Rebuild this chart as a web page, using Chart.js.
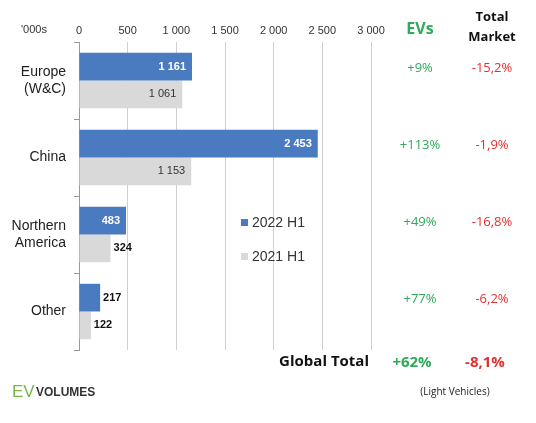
<!DOCTYPE html>
<html>
<head>
<meta charset="utf-8">
<script src="https://cdn.jsdelivr.net/npm/chart.js@4"></script>
<style>
  html, body { margin: 0; padding: 0; background: #fff; }
  #wrap { width: 536px; height: 423px; }
</style>
</head>
<body>
<div id="wrap"><canvas id="chart"></canvas></div>
<script>
const regions = [['Europe', '(W&C)'], 'China', ['Northern', 'America'], 'Other'];
const h1_2022 = [1161, 2453, 483, 217];
const h1_2021 = [1061, 1153, 324, 122];
const evGrowth = ['+9%', '+113%', '+49%', '+77%'];
const marketGrowth = ['-15,2%', '-1,9%', '-16,8%', '-6,2%'];
const globalEv = '+62%';
const globalMarket = '-8,1%';

const GREEN = '#2eaa5a', RED = '#e03030';

function fmt(v) {
  return String(v).replace(/\B(?=(\d{3})+(?!\d))/g, ' ');
}

const overlay = {
  id: 'overlay',
  afterDatasetsDraw(chart) {
    const ctx = chart.ctx;
    ctx.save();
    ctx.textBaseline = 'middle';
    // bar labels
    chart.data.datasets.forEach((ds, di) => {
      chart.getDatasetMeta(di).data.forEach((bar, i) => {
        const v = ds.data[i];
        const w = bar.x - bar.base;
        if (w > 40) {
          ctx.textAlign = 'right';
          ctx.fillStyle = di === 0 ? '#fff' : '#333';
          ctx.font = (di === 0 ? 'bold ' : '') + '11px "Liberation Sans", Arial';
          ctx.fillText(fmt(v), bar.x - 6, bar.y);
        } else {
          ctx.textAlign = 'left';
          ctx.fillStyle = '#111';
          ctx.font = 'bold 11px "Liberation Sans", Arial';
          ctx.fillText(fmt(v), bar.x + 3, bar.y);
        }
      });
    });
    // header
    ctx.textAlign = 'center';
    ctx.fillStyle = '#333';
    ctx.font = '11px "Liberation Sans", Arial';
    ctx.fillText("'000s", 34, 30);
    ctx.fillStyle = GREEN;
    ctx.font = 'bold 16px "Open Sans"';
    ctx.fillText('EVs', 420, 29);
    ctx.fillStyle = '#111';
    ctx.font = 'bold 13px "Open Sans"';
    ctx.fillText('Total', 492, 17);
    ctx.fillText('Market', 492, 37);
    // per-region growth
    const y = chart.scales.y;
    ctx.font = '13px "Open Sans"';
    regions.forEach((r, i) => {
      const cy = y.getPixelForValue(i) - 12;
      ctx.fillStyle = GREEN;
      ctx.fillText(evGrowth[i], 420, cy);
      ctx.fillStyle = RED;
      ctx.fillText(marketGrowth[i], 492, cy);
    });
    // global total
    ctx.font = 'bold 15px "Open Sans"';
    ctx.textAlign = 'right';
    ctx.fillStyle = '#111';
    ctx.fillText('Global Total', 369, 362);
    ctx.textAlign = 'center';
    ctx.fillStyle = GREEN;
    ctx.fillText(globalEv, 412, 363);
    ctx.fillStyle = RED;
    ctx.fillText(globalMarket, 485, 363);
    ctx.fillStyle = '#222';
    ctx.font = '10px "Open Sans"';
    ctx.fillText('(Light Vehicles)', 455, 392);
    // logo
    ctx.textAlign = 'left';
    ctx.fillStyle = '#7ab648';
    ctx.font = '17px "Liberation Sans", Arial';
    ctx.fillText('EV', 12, 392);
    ctx.fillStyle = '#333';
    ctx.font = 'bold 12px "Liberation Sans", Arial';
    ctx.fillText('VOLUMES', 36, 393);
    // legend
    const items = [['2022 H1', '#4a7bc0'], ['2021 H1', '#d9d9d9']];
    ctx.font = '14px "Liberation Sans", Arial';
    items.forEach((it, i) => {
      const ly = 223 + i * 34;
      ctx.fillStyle = it[1];
      ctx.fillRect(241, ly - 4, 7, 7);
      ctx.fillStyle = '#333';
      ctx.fillText(it[0], 252, ly);
    });
    ctx.restore();
  }
};

new Chart(document.getElementById('chart'), {
  type: 'bar',
  data: {
    labels: regions,
    datasets: [
      { label: '2022 H1', data: h1_2022, backgroundColor: '#4a7bc0' },
      { label: '2021 H1', data: h1_2021, backgroundColor: '#d9d9d9' }
    ]
  },
  options: {
    indexAxis: 'y',
    responsive: true,
    maintainAspectRatio: false,
    animation: false,
    categoryPercentage: 0.72,
    barPercentage: 1,
    layout: { padding: { left: 0, right: 165, top: 0, bottom: 73 } },
    plugins: { legend: { display: false }, tooltip: { enabled: false } },
    scales: {
      x: {
        position: 'top',
        min: 0, max: 3000,
        ticks: { stepSize: 500, color: '#333', padding: 4, font: { size: 11, family: '"Liberation Sans", Arial' },
                 callback: v => fmt(v) },
        grid: { color: '#cfcfcf', tickLength: 0 },
        border: { display: false },
        afterFit: s => { s.height = 42; }
      },
      y: {
        ticks: { color: '#222', font: { size: 14, family: '"Liberation Sans", Arial' }, padding: 8 },
        grid: { drawOnChartArea: false, offset: true, tickLength: 5, color: '#999' },
        border: { color: '#999' },
        afterFit: s => { s.width = 79; }
      }
    }
  },
  plugins: [overlay]
});
</script>
</body>
</html>
